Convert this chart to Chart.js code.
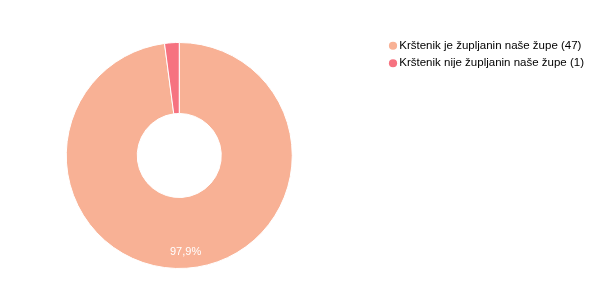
<!DOCTYPE html>
<html>
<head>
<meta charset="utf-8">
<script src="https://cdn.jsdelivr.net/npm/chart.js@4/dist/chart.umd.min.js"></script>
<style>
  html, body { margin: 0; padding: 0; background: #fff; overflow: hidden; }
  /* canvas starts left of the window so the doughnut sits where the original does */
  #wrap { width: 633px; height: 306px; margin-left: -28px; position: relative; }
</style>
</head>
<body>
<div id="wrap"><canvas id="pieChart"></canvas></div>
<script>
// ===== Data =====
const categories = ['Krštenik je župljanin naše župe', 'Krštenik nije župljanin naše župe'];
const counts = [47, 1];
const colors = ['#F8B195', '#F67280'];

// ===== Percent labels inside slices =====
const sliceLabels = {
  id: 'sliceLabels',
  afterDatasetsDraw(chart) {
    const ctx = chart.ctx;
    const meta = chart.getDatasetMeta(0);
    const total = counts.reduce((a, b) => a + b, 0);
    ctx.save();
    ctx.fillStyle = '#ffffff';
    ctx.font = '11px Arial, "Liberation Sans", sans-serif';
    ctx.textAlign = 'center';
    ctx.textBaseline = 'middle';
    meta.data.forEach((arc, i) => {
      const pct = counts[i] / total * 100;
      if (pct < 5) return;
      const p = arc.getProps(['x', 'y', 'startAngle', 'endAngle', 'innerRadius', 'outerRadius'], true);
      const mid = (p.startAngle + p.endAngle) / 2;
      const r = p.innerRadius + (p.outerRadius - p.innerRadius) * 0.77;
      const txt = pct.toFixed(1).replace('.', ',') + '%';
      ctx.fillText(txt, p.x + Math.cos(mid) * r, p.y + Math.sin(mid) * r);
    });
    ctx.restore();
  }
};

// ===== Chart =====
const ctx = document.getElementById('pieChart').getContext('2d');
new Chart(ctx, {
  type: 'doughnut',
  data: {
    labels: categories,
    datasets: [{
      data: counts,
      backgroundColor: colors,
      borderColor: '#ffffff',
      borderWidth: 1,
      radius: 113,
      cutout: 45
    }]
  },
  options: {
    responsive: true,
    maintainAspectRatio: false,
    animation: false,
    layout: { padding: { top: 34, bottom: 29, left: 0, right: 11 } },
    plugins: {
      tooltip: { enabled: false },
      legend: {
        position: 'right',
        align: 'start',
        labels: {
          usePointStyle: true,
          boxWidth: 1,
          boxHeight: 5.8,
          padding: 6,
          color: '#333333',
          font: { size: 11.5, family: 'Arial, "Liberation Sans", sans-serif' },
          generateLabels(chart) {
            return categories.map((c, i) => ({
              text: c + ' (' + counts[i] + ')',
              fillStyle: colors[i],
              strokeStyle: colors[i],
              lineWidth: 0,
              pointStyle: 'circle',
              hidden: false,
              index: i
            }));
          }
        }
      }
    }
  },
  plugins: [sliceLabels]
});
</script>
</body>
</html>
